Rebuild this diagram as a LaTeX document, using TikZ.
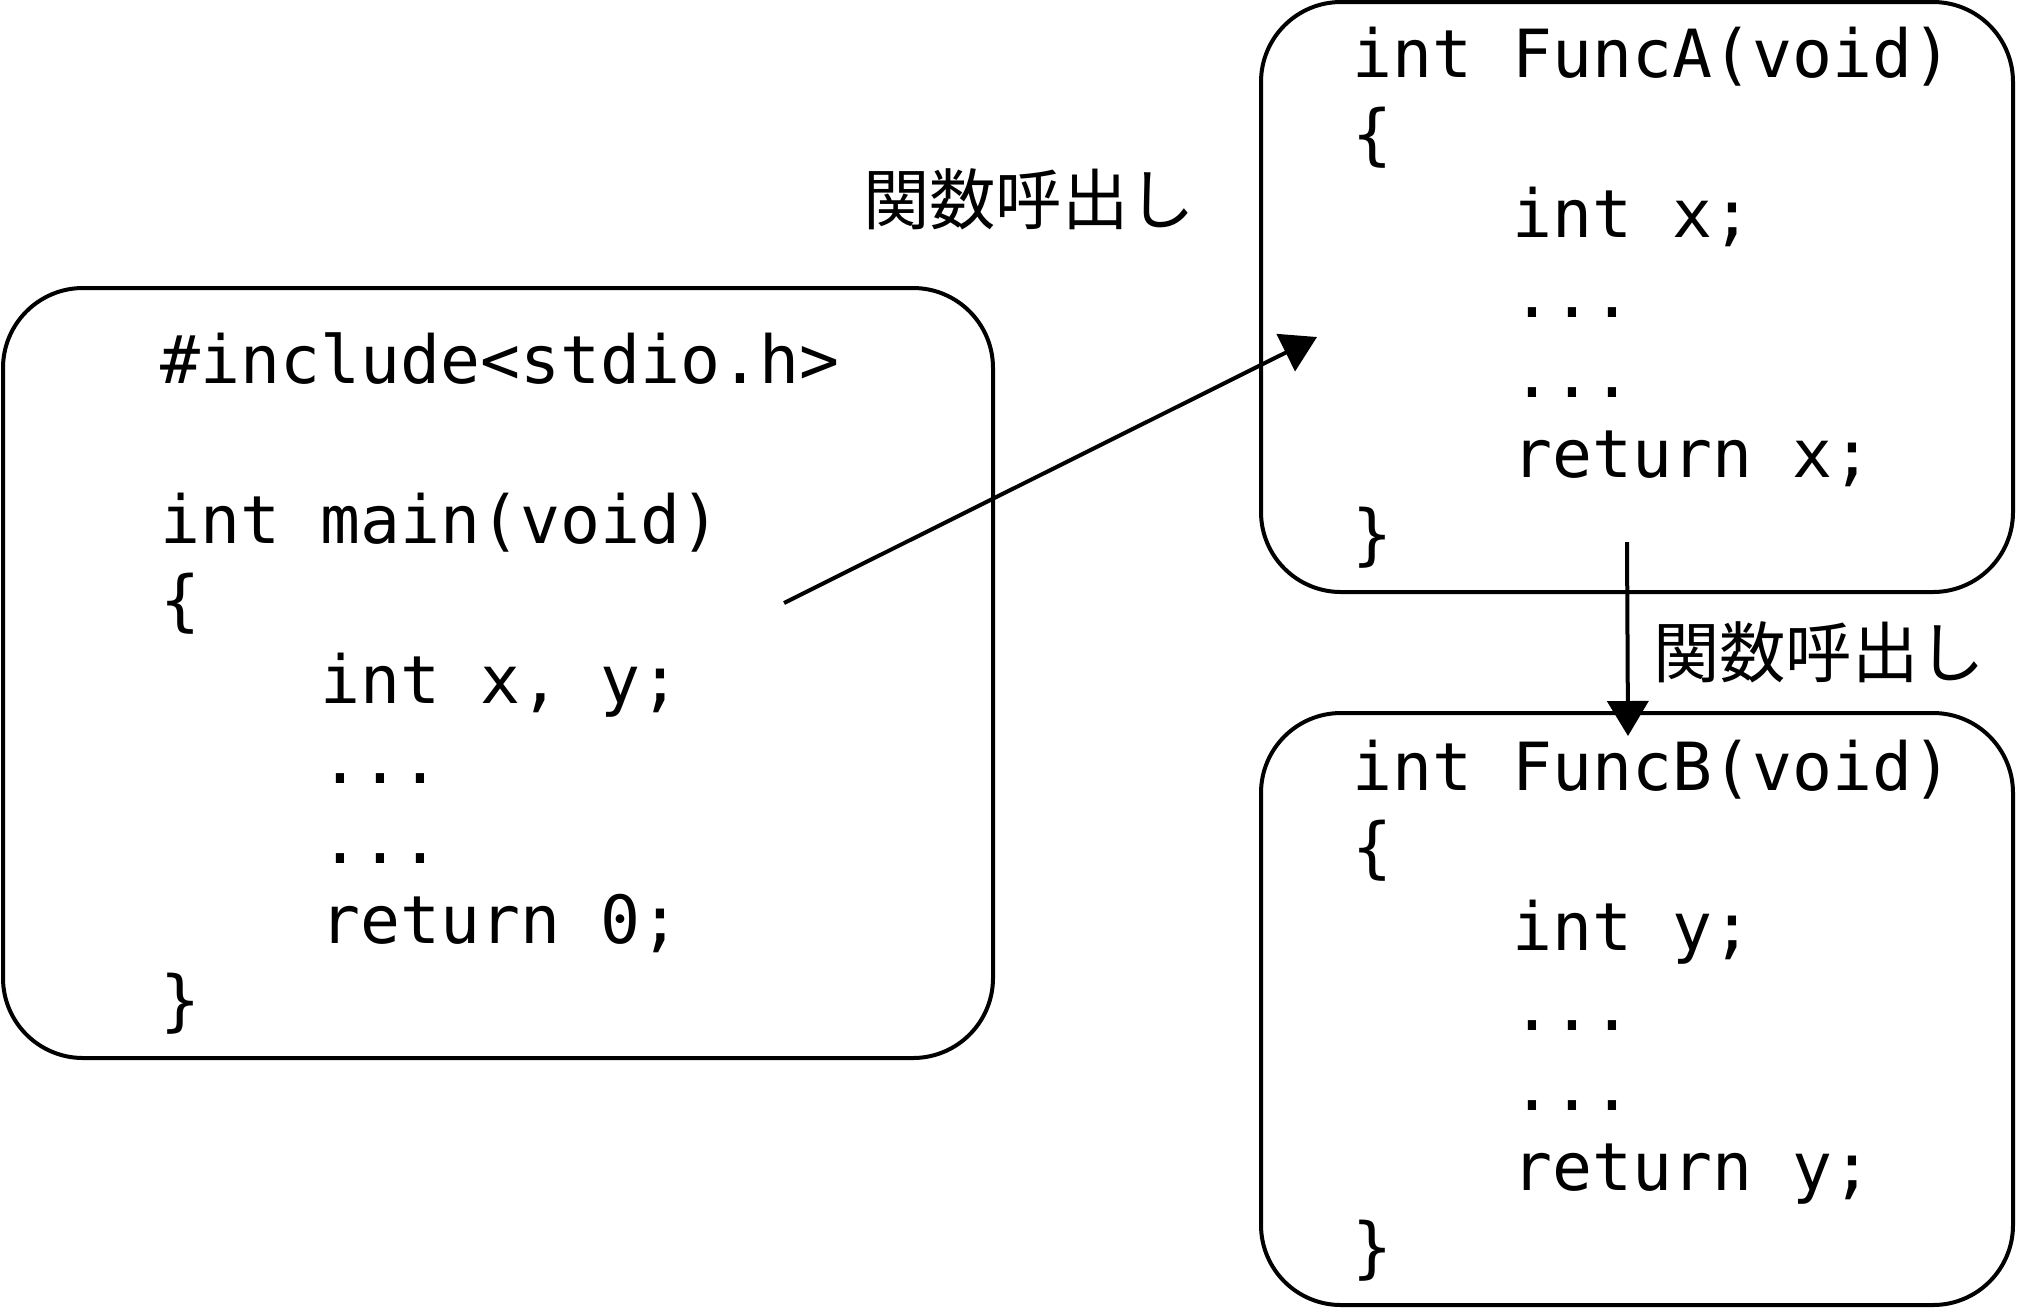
\documentclass[tikz,border=0pt]{standalone}
\usepackage{fontspec}
\setmonofont{DejaVu Sans Mono}
\newfontfamily\jpfont{Noto Sans CJK JP}
\usetikzlibrary{arrows.meta}
\newcommand\ind{\phantom{0000}}
\tikzset{
  codebox/.style={draw, line width=2pt, rounded corners=40pt, rectangle, inner sep=0pt, outer sep=0pt},
  code/.style={anchor=base west, inner sep=0pt, font=\fontsize{33.2}{40}\selectfont\ttfamily\frenchspacing},
  lbl/.style={inner sep=0pt, font=\fontsize{33.2}{40}\selectfont\jpfont},
  arr/.style={line width=2pt, -{Triangle[length=17.5pt,width=20.5pt]}}
}
\begin{document}
\begin{tikzpicture}[x=0.5pt,y=-0.5pt]
\useasboundingbox (0,0) rectangle (2028,1308);
% boxes
\node[codebox, minimum width=495pt, minimum height=385pt] (mainbox) at (498,673) {};
\node[codebox, minimum width=376pt, minimum height=295pt] (funcabox) at (1637,297) {};
\node[codebox, minimum width=376pt, minimum height=296pt] (funcbbox) at (1637,1009) {};
% code
\node[code] (maincode) at (160,383) {\begin{tabular}[t]{@{}l@{}}
\#include<stdio.h>\\
\\
int main(void)\\
\{\\
\ind int x, y;\\
\ind ...\\
\ind ...\\
\ind return 0;\\
\}
\end{tabular}};
\node[code] (funcacode) at (1352,77) {\begin{tabular}[t]{@{}l@{}}
int FuncA(void)\\
\{\\
\ind int x;\\
\ind ...\\
\ind ...\\
\ind return x;\\
\}
\end{tabular}};
\node[code] (funcbcode) at (1352,790) {\begin{tabular}[t]{@{}l@{}}
int FuncB(void)\\
\{\\
\ind int y;\\
\ind ...\\
\ind ...\\
\ind return y;\\
\}
\end{tabular}};
% labels
\node[lbl] (call1) at (1029,199) {関数呼出し};
\node[lbl] (call2) at (1819,652) {関数呼出し};
% arrows
\coordinate (a1s) at (784,603);
\coordinate (a1e) at (1317,337);
\coordinate (a2s) at (1627,542);
\coordinate (a2e) at (1628,736);
\draw[arr] (a1s) -- (a1e);
\draw[arr] (a2s) -- (a2e);
\end{tikzpicture}
\end{document}
